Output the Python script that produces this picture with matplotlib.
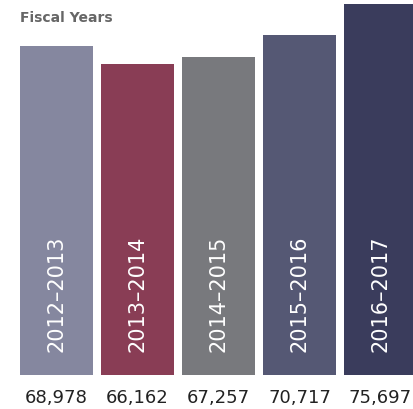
import matplotlib
matplotlib.use("Agg")
import matplotlib.pyplot as plt
import matplotlib.transforms as mtransforms

years = ["2012–2013", "2013–2014", "2014–2015", "2015–2016", "2016–2017"]
counts = [68978, 66162, 67257, 70717, 75697]
colors = ["#85879f", "#893d55", "#78797d", "#555874", "#3a3c5c"]

W, H = 413, 410
fig = plt.figure(figsize=(W / 100, H / 100), dpi=100)

# axes box in pixels: left 20, bottom 376 from top, top 5 from top
ax = fig.add_axes([20 / W, (H - 376) / H, (W - 20) / W, 371 / H])
x = list(range(len(counts)))
ax.bar(x, counts, width=0.9, color=colors)
ax.set_xlim(-0.45, -0.45 + (W - 20) / 81)
ax.set_ylim(16790, 75697)
ax.axis("off")

trans = mtransforms.blended_transform_factory(ax.transData, ax.transAxes)
for xi, yr, c in zip(x, years, counts):
    ax.text(xi, 24 / 371, yr, rotation=90, ha="center", va="bottom",
            color="white", fontsize=15, transform=trans)
    ax.text(xi, -22 / 371, f"{c:,}", ha="center", va="center",
            color="#222222", fontsize=13, transform=trans)

fig.text(20 / W, 1 - 18 / H, "Fiscal Years", ha="left", va="center",
         fontsize=10, fontweight="bold", color="#666666")

fig.savefig("out.png", dpi=100)
